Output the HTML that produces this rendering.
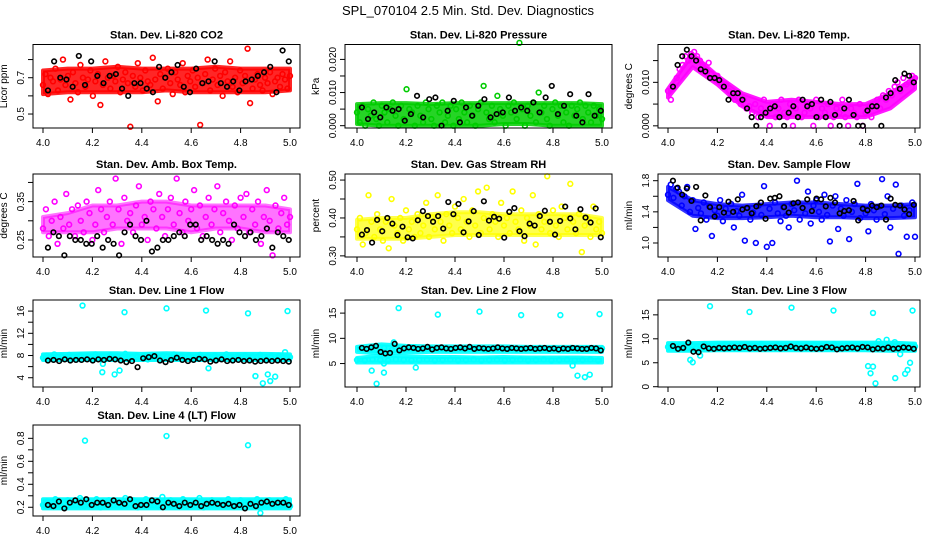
<!DOCTYPE html>
<html><head><meta charset="utf-8"><style>
html,body{margin:0;padding:0;background:#fff}
svg{display:block;font-family:"Liberation Sans",Arial,sans-serif}
</style></head><body>
<svg id="chart" width="936" height="540" viewBox="0 0 936 540" xmlns="http://www.w3.org/2000/svg">
<text x="468" y="15" text-anchor="middle" font-size="13">SPL_070104  2.5 Min. Std. Dev. Diagnostics</text>
</svg>
<script>
// ---- data ----
const xTicks = [4.0, 4.2, 4.4, 4.6, 4.8, 5.0];
const xTickLabels = ["4.0", "4.2", "4.4", "4.6", "4.8", "5.0"];
const bandX = [4.0,4.1,4.2,4.3,4.4,4.5,4.6,4.7,4.8,4.9,5.0];

const co2Main = [0.66,0.72,0.61,0.70,0.68,0.75,0.63,0.69,0.80,0.66,0.71,0.58,0.73,0.67,0.62,0.77,0.70,0.65,0.69,0.74,0.60,0.68,0.72,0.55,0.66,0.79,0.70,0.64,0.71,0.68,0.76,0.62,0.69,0.73,0.67,0.43,0.71,0.65,0.78,0.70,0.63,0.74,0.68,0.66,0.81,0.69,0.57,0.72,0.64,0.70,0.75,0.67,0.61,0.73,0.69,0.66,0.78,0.62,0.71,0.68,0.74,0.65,0.70,0.44,0.67,0.72,0.80,0.63,0.69,0.75,0.66,0.71,0.60,0.73,0.68,0.79,0.65,0.70,0.62,0.74,0.67,0.71,0.86,0.56,0.64,0.69,0.72,0.66,0.63,0.70,0.67,0.73,0.61,0.68,0.70,0.65,0.72,0.69,0.64,0.71];
const co2Black = [0.63,0.79,0.70,0.69,0.65,0.82,0.66,0.79,0.71,0.67,0.71,0.72,0.64,0.60,0.67,0.67,0.64,0.62,0.76,0.70,0.73,0.77,0.65,0.62,0.75,0.67,0.68,0.79,0.67,0.65,0.68,0.63,0.68,0.69,0.71,0.73,0.76,0.62,0.85,0.79];
const co2BandLo = [0.61,0.62,0.62,0.62,0.62,0.63,0.62,0.62,0.62,0.62,0.63];
const co2BandHi = [0.74,0.75,0.75,0.76,0.75,0.75,0.75,0.76,0.75,0.75,0.75];

const presMain = [0.004,0.001,0.006,0.000,0.005,0.003,0.007,0.002,0.000,0.006,0.004,0.001,0.005,0.007,0.003,0.000,0.006,0.002,0.011,0.005,0.004,0.000,0.006,0.003,0.001,0.007,0.005,0.002,0.000,0.006,0.004,0.007,0.001,0.003,0.006,0.000,0.005,0.002,0.007,0.004,0.001,0.006,0.003,0.000,0.005,0.007,0.012,0.004,0.002,0.006,0.001,0.009,0.005,0.003,0.000,0.006,0.004,0.007,0.002,0.025,0.005,0.000,0.006,0.003,0.007,0.001,0.010,0.004,0.006,0.002,0.000,0.005,0.007,0.003,0.006,0.001,0.004,0.000,0.006,0.003,0.005,0.007,0.002,0.006,0.004,0.001,0.006,0.003,0.005,0.002];
const presBlack = [0.0055,0.002,0.004,0.0025,0.0055,0.0045,0.005,0.0015,0.0035,0.009,0.0025,0.008,0.0085,0.000,0.0045,0.0075,0.001,0.0055,0.003,0.006,0.008,0.0025,0.0035,0.004,0.0085,0.0045,0.0055,0.0045,0.007,0.004,0.0085,0.012,0.0035,0.006,0.0095,0.003,0.001,0.0095,0.003,0.0045];
const presBandLo = [0.0005,0.0,0.0,0.0,0.0,0.0,0.0005,0.0005,0.0,0.0,0.0];
const presBandHi = [0.0065,0.0068,0.0068,0.0065,0.0068,0.0068,0.0068,0.0068,0.0068,0.0068,0.0065];

const tempMain = [0.008,0.006,0.009,0.011,0.013,0.014,0.016,0.015,0.0165,0.017,0.016,0.015,0.014,0.013,0.0145,0.012,0.011,0.0115,0.010,0.009,0.0095,0.008,0.007,0.006,0.0065,0.005,0.006,0.004,0.0045,0.003,0.005,0.002,0.004,0.006,0.003,0.000,0.005,0.002,0.004,0.006,0.003,0.002,0.005,0.000,0.004,0.006,0.002,0.003,0.005,0.004,0.000,0.006,0.002,0.004,0.003,0.005,0.000,0.002,0.004,0.003,0.006,0.002,0.000,0.004,0.003,0.002,0.005,0.000,0.003,0.004,0.002,0.005,0.006,0.004,0.007,0.006,0.008,0.007,0.009,0.010,0.008,0.011,0.0095,0.010,0.0115,0.011];
const tempBlack = [0.009,0.014,0.016,0.0175,0.016,0.015,0.013,0.0125,0.011,0.011,0.0105,0.009,0.006,0.0075,0.0075,0.006,0.004,0.002,0.000,0.002,0.003,0.004,0.0045,0.002,0.000,0.003,0.0045,0.002,0.006,0.0045,0.005,0.002,0.006,0.002,0.0055,0.0025,0.000,0.004,0.006,0.0025,0.000,0.000,0.0035,0.0045,0.0045,0.000,0.0065,0.0075,0.0105,0.0085,0.012,0.0115,0.010];
const tempBandLo = [0.0065,0.0135,0.0095,0.0045,0.002,0.002,0.002,0.002,0.002,0.004,0.0085];
const tempBandHi = [0.0085,0.0165,0.0115,0.0075,0.0055,0.006,0.0055,0.005,0.005,0.0075,0.011];

const ambMain = [0.28,0.33,0.26,0.30,0.35,0.24,0.31,0.28,0.37,0.29,0.33,0.26,0.34,0.30,0.27,0.35,0.32,0.25,0.29,0.38,0.33,0.27,0.31,0.35,0.29,0.41,0.33,0.24,0.36,0.30,0.32,0.27,0.34,0.39,0.29,0.31,0.25,0.35,0.33,0.28,0.37,0.31,0.26,0.33,0.36,0.29,0.41,0.32,0.27,0.35,0.30,0.33,0.38,0.28,0.34,0.26,0.31,0.36,0.29,0.33,0.39,0.27,0.32,0.35,0.30,0.25,0.34,0.28,0.36,0.31,0.37,0.27,0.33,0.29,0.35,0.24,0.31,0.38,0.30,0.21,0.34,0.28,0.32,0.36,0.29,0.31];
const ambBlack = [0.23,0.27,0.26,0.21,0.26,0.25,0.25,0.24,0.24,0.26,0.23,0.25,0.24,0.21,0.27,0.29,0.26,0.25,0.30,0.22,0.23,0.25,0.25,0.26,0.27,0.26,0.29,0.29,0.25,0.26,0.25,0.24,0.25,0.24,0.29,0.27,0.26,0.27,0.25,0.26,0.28,0.23,0.27,0.26,0.25];
const ambBandLo = [0.27,0.27,0.27,0.28,0.28,0.28,0.27,0.28,0.28,0.27,0.27];
const ambBandHi = [0.31,0.32,0.34,0.34,0.35,0.35,0.34,0.34,0.34,0.34,0.33];

const rhMain = [0.37,0.40,0.33,0.36,0.46,0.39,0.35,0.41,0.37,0.34,0.39,0.32,0.45,0.38,0.36,0.40,0.34,0.42,0.37,0.39,0.35,0.41,0.36,0.38,0.44,0.35,0.40,0.37,0.46,0.39,0.34,0.41,0.38,0.36,0.43,0.40,0.37,0.45,0.39,0.35,0.42,0.38,0.47,0.36,0.40,0.48,0.37,0.41,0.39,0.35,0.44,0.38,0.40,0.36,0.47,0.39,0.37,0.42,0.34,0.40,0.38,0.46,0.33,0.41,0.37,0.39,0.51,0.36,0.42,0.38,0.35,0.43,0.40,0.37,0.49,0.39,0.36,0.41,0.31,0.38,0.40,0.35,0.43,0.37,0.39,0.36];
const rhBlack = [0.356,0.368,0.335,0.395,0.365,0.400,0.385,0.355,0.377,0.349,0.346,0.394,0.418,0.405,0.390,0.405,0.372,0.442,0.410,0.437,0.362,0.391,0.418,0.355,0.444,0.393,0.403,0.398,0.348,0.416,0.426,0.365,0.352,0.385,0.380,0.405,0.419,0.390,0.356,0.392,0.430,0.399,0.370,0.423,0.401,0.388,0.425,0.349];
const rhBandLo = [0.345,0.345,0.345,0.35,0.355,0.355,0.355,0.355,0.355,0.355,0.355];
const rhBandHi = [0.395,0.40,0.40,0.41,0.415,0.415,0.41,0.41,0.41,0.41,0.40];

const flowMain = [1.62,1.75,1.58,1.70,1.66,1.48,1.60,1.72,1.40,1.55,1.18,1.45,1.38,1.52,1.30,1.47,1.09,1.42,1.35,1.55,1.28,1.44,1.38,1.50,1.20,1.41,1.35,1.62,1.03,1.45,1.30,1.39,1.00,1.48,1.36,1.73,0.95,1.44,1.00,1.52,1.38,1.28,1.46,1.35,1.20,1.50,1.42,1.80,1.30,1.45,1.38,1.66,1.25,1.48,1.55,1.40,1.30,1.62,1.36,1.02,1.48,1.60,1.18,1.44,1.35,1.55,1.05,1.40,1.50,1.76,1.32,1.45,1.38,1.15,1.50,1.42,1.30,1.47,1.82,1.37,1.60,1.20,1.44,1.75,0.86,1.48,1.35,1.08,1.42,1.52,1.08];
const flowBlack = [1.80,1.71,1.62,1.70,1.54,1.72,1.29,1.61,1.46,1.34,1.46,1.39,1.53,1.40,1.56,1.43,1.45,1.38,1.47,1.52,1.31,1.57,1.58,1.60,1.46,1.39,1.51,1.52,1.45,1.56,1.41,1.57,1.56,1.47,1.58,1.52,1.38,1.41,1.42,1.54,1.29,1.44,1.42,1.48,1.46,1.48,1.30,1.57,1.49,1.48,1.43,1.37,1.49];
const flowBandLo = [1.55,1.35,1.32,1.32,1.33,1.35,1.33,1.33,1.32,1.32,1.33];
const flowBandHi = [1.72,1.55,1.50,1.48,1.50,1.52,1.52,1.50,1.48,1.48,1.50];

const l1Main = [7.6,8.0,7.4,8.2,7.7,7.9,7.5,8.1,7.8,7.3,8.0,7.6,7.9,7.4,8.2,7.7,6.5,7.8,8.1,7.5,7.9,7.6,8.3,7.4,7.8,8.0,7.6,7.9,7.3,8.1,7.7,7.5,8.0,7.8,7.4,8.2,7.6,7.9,7.7,8.0,7.5,7.8,8.1,7.6,7.9,7.4,8.0,7.7,7.5,8.2,7.8,7.6,7.9,7.7,8.0,7.5,7.8,7.6,8.1,7.7,7.4,7.9,7.6,8.0,7.8,7.5,7.7];
const l1Black = [7.1,7.2,7.0,7.3,7.1,7.2,7.2,7.3,7.1,7.3,7.2,7.4,7.3,7.1,6.8,7.0,5.9,7.5,7.7,7.9,7.1,6.8,7.2,7.6,7.2,7.0,7.2,7.4,7.3,6.9,7.1,7.3,7.0,7.1,7.2,7.0,7.1,6.9,7.0,7.1,7.0,7.1,7.0,6.9];
const l1OutX = [4.16,4.33,4.50,4.66,4.83,4.99,4.31,4.24,4.29,4.67,4.86,4.89,4.91,4.92,4.94,4.98];
const l1OutY = [17.0,15.8,16.5,16.1,15.6,16.0,5.3,5.0,4.6,5.7,4.3,3.0,4.6,3.4,4.2,8.6];
const l1BandLo = [7.2,7.2,7.2,7.2,7.2,7.2,7.2,7.2,7.2,7.2,7.2];
const l1BandHi = [8.2,8.3,8.4,8.4,8.3,8.4,8.3,8.3,8.3,8.3,8.2];

const l2Main = [5.7,7.9,5.6,8.0,5.8,7.8,5.7,8.1,5.6,7.7,5.8,8.0,5.7,7.9,5.6,8.2,5.7,7.8,5.8,8.0,5.6,7.9,5.7,8.1,5.8,7.8,5.6,8.0,5.7,7.9,5.8,8.1,5.6,7.7,5.7,8.0,5.8,7.9,5.6,8.1,5.7,7.8,5.8,8.0,5.6,7.9,5.7,8.1,5.8,7.8,5.6,8.0,5.7,7.9,5.8,8.1,5.6,7.8,5.7,8.0,5.8,7.9,5.6,8.0];
const l2Black = [8.1,7.9,8.2,8.5,7.3,7.0,7.1,8.9,7.6,8.0,8.2,8.1,7.9,8.0,8.3,7.8,8.1,8.2,8.0,7.9,8.1,8.2,8.0,8.3,7.9,8.1,8.0,7.9,8.0,8.2,8.0,7.9,8.1,8.0,7.9,8.0,8.1,7.9,8.0,8.1,7.9,8.0,7.8,8.0,7.9,8.1,8.0,7.9,7.9,8.1,8.0,7.6];
const l2OutX = [4.17,4.33,4.50,4.67,4.83,4.99,4.06,4.08,4.11,4.24,4.90,4.93,4.95,4.88,4.11,4.15];
const l2OutY = [16.0,14.7,15.3,14.6,14.6,14.8,3.6,1.0,3.2,4.2,2.6,2.3,2.8,4.6,5.0,9.2];
const l2BandLo = [5.2,5.2,5.2,5.2,5.2,5.2,5.2,5.2,5.2,5.2,5.2];
const l2BandMid = [6.1,6.6,6.4,6.3,6.3,6.2,6.3,6.2,6.2,6.2,6.1];
const l2BandLo2 = [7.3,7.0,7.2,7.3,7.3,7.3,7.3,7.3,7.3,7.3,7.3];
const l2BandHi = [8.3,8.8,8.5,8.4,8.4,8.4,8.4,8.3,8.3,8.3,8.3];

const l3Main = [8.3,8.6,8.1,8.8,8.4,8.2,8.7,8.0,8.5,8.9,8.3,8.1,8.6,8.4,8.8,8.2,8.5,8.0,8.7,8.3,8.6,8.1,8.4,8.9,8.2,8.5,8.3,8.7,8.0,8.6,8.4,8.2,8.8,8.3,8.5,8.1,8.7,8.4,8.2,8.6,8.3,8.9,8.1,8.5,8.4,8.7,8.2,8.6,8.3,8.8,8.0,8.5,9.5,8.4,9.8,8.2,9.3,8.6,8.3,8.1,8.5,8.4];
const l3Black = [8.5,7.9,8.1,9.2,7.3,7.2,8.4,8.0,7.9,8.1,8.0,8.1,8.2,8.1,8.3,8.0,8.1,7.9,8.0,8.1,8.2,8.0,8.1,8.4,8.1,8.0,8.2,8.0,7.9,8.0,8.3,8.2,7.8,8.0,8.1,8.2,8.0,8.3,8.2,7.8,8.0,7.9,8.2,7.9,8.0,8.2,8.1,7.9];
const l3OutX = [4.17,4.33,4.50,4.67,4.83,4.99,4.09,4.10,4.13,4.81,4.82,4.84,4.83,4.92,4.96,4.97,4.98,4.94];
const l3OutY = [16.8,15.6,16.5,15.9,15.4,15.9,5.6,5.1,6.5,4.3,2.8,0.7,4.2,1.8,2.7,3.5,5.0,6.8];
const l3BandLo = [7.5,7.5,7.6,7.6,7.6,7.6,7.6,7.6,7.6,7.5,7.5];
const l3BandHi = [9.1,9.1,9.2,9.2,9.2,9.2,9.2,9.2,9.2,9.2,9.0];

const l4Main = [0.22,0.25,0.21,0.27,0.23,0.20,0.26,0.24,0.22,0.28,0.21,0.25,0.23,0.27,0.20,0.24,0.26,0.22,0.25,0.21,0.28,0.23,0.26,0.20,0.24,0.27,0.22,0.25,0.21,0.29,0.23,0.26,0.22,0.24,0.27,0.21,0.25,0.23,0.28,0.20,0.24,0.26,0.22,0.25,0.23,0.27,0.21,0.24,0.26,0.22,0.25,0.23,0.27,0.21,0.24,0.26,0.22,0.25,0.23,0.27,0.21];
const l4Black = [0.22,0.21,0.25,0.19,0.24,0.26,0.24,0.27,0.22,0.24,0.24,0.22,0.26,0.24,0.23,0.27,0.21,0.22,0.22,0.26,0.25,0.20,0.24,0.23,0.21,0.24,0.22,0.24,0.21,0.23,0.24,0.23,0.22,0.23,0.21,0.22,0.19,0.23,0.21,0.24,0.25,0.23,0.24,0.24,0.22];
const l4OutX = [4.17,4.50,4.83,4.88];
const l4OutY = [0.78,0.82,0.74,0.15];
const l4BandLo = [0.19,0.19,0.19,0.19,0.19,0.19,0.19,0.19,0.19,0.19,0.19];
const l4BandHi = [0.27,0.27,0.27,0.27,0.27,0.27,0.27,0.27,0.27,0.27,0.27];

// ---- layout ----
const colL = [33, 345, 658], colR = [300, 612, 920], colX4 = [43, 357, 668], colX5 = [290, 602, 915];
const rowT = [44.5, 174, 300, 425], rowB = [128, 257, 387, 516];
const svg = document.getElementById('chart');
const NS = 'http://www.w3.org/2000/svg';
function mk(tag, attrs, parent) {
  const e = document.createElementNS(NS, tag);
  for (const k in attrs) e.setAttribute(k, attrs[k]);
  (parent || svg).appendChild(e);
  return e;
}
const panels = [
  {id:'co2', title:'Stan. Dev. Li-820 CO2', ylab:'Licor ppm', c:0, r:0, dom:[0.423,0.883], ticks:[0.5,0.6,0.7,0.8], labs:['0.5','','0.7',''], main:co2Main, black:co2Black, bands:[[co2BandLo,co2BandHi]], bo:0.85, color:'#ff0000'},
  {id:'pressure', title:'Stan. Dev. Li-820 Pressure', ylab:'kPa', c:1, r:0, dom:[-0.0007,0.0245], ticks:[0,0.005,0.01,0.015,0.02], labs:['0.000','','0.010','','0.020'], main:presMain, black:presBlack, bands:[[presBandLo,presBandHi]], bo:0.85, color:'#00cc00'},
  {id:'li820-temp', title:'Stan. Dev. Li-820 Temp.', ylab:'degrees C', c:2, r:0, dom:[-0.0005,0.0187], ticks:[0,0.005,0.01,0.015], labs:['0.000','','0.010',''], main:tempMain, black:tempBlack, bands:[[tempBandLo,tempBandHi]], bo:0.9, color:'#ff00ff'},
  {id:'amb-box-temp', title:'Stan. Dev. Amb. Box Temp.', ylab:'degrees C', c:0, r:1, dom:[0.2056,0.422], ticks:[0.25,0.3,0.35,0.4], labs:['0.25','','0.35',''], main:ambMain, black:ambBlack, bands:[[ambBandLo,ambBandHi]], bo:0.55, color:'#ff00ff'},
  {id:'gas-rh', title:'Stan. Dev. Gas Stream RH', ylab:'percent', c:1, r:1, dom:[0.297,0.516], ticks:[0.3,0.35,0.4,0.45,0.5], labs:['0.30','','0.40','','0.50'], main:rhMain, black:rhBlack, bands:[[rhBandLo,rhBandHi]], bo:0.7, color:'#ffff00'},
  {id:'sample-flow', title:'Stan. Dev. Sample Flow', ylab:'ml/min', c:2, r:1, dom:[0.82,1.886], ticks:[1.0,1.2,1.4,1.6,1.8], labs:['1.0','','1.4','','1.8'], main:flowMain, black:flowBlack, bands:[[flowBandLo,flowBandHi]], bo:0.8, color:'#0000ff'},
  {id:'line1-flow', title:'Stan. Dev. Line 1 Flow', ylab:'ml/min', c:0, r:2, dom:[2.33,18.0], ticks:[4,6,8,10,12,14,16], labs:['4','','8','','12','','16'], main:l1Main, black:l1Black, outX:l1OutX, outY:l1OutY, bands:[[l1BandLo,l1BandHi]], bo:0.95, color:'#00ffff'},
  {id:'line2-flow', title:'Stan. Dev. Line 2 Flow', ylab:'ml/min', c:1, r:2, dom:[0.35,17.6], ticks:[5,10,15], labs:['5','10','15'], main:l2Main, black:l2Black, outX:l2OutX, outY:l2OutY, bands:[[l2BandLo,l2BandMid],[l2BandLo2,l2BandHi]], bo:0.9, color:'#00ffff'},
  {id:'line3-flow', title:'Stan. Dev. Line 3 Flow', ylab:'ml/min', c:2, r:2, dom:[-0.06,18.1], ticks:[0,5,10,15], labs:['0','5','10','15'], main:l3Main, black:l3Black, outX:l3OutX, outY:l3OutY, bands:[[l3BandLo,l3BandHi]], bo:0.95, color:'#00ffff'},
  {id:'line4-flow', title:'Stan. Dev. Line 4 (LT) Flow', ylab:'ml/min', c:0, r:3, dom:[0.124,0.916], ticks:[0.2,0.3,0.4,0.5,0.6,0.7,0.8], labs:['0.2','','0.4','','0.6','','0.8'], main:l4Main, black:l4Black, outX:l4OutX, outY:l4OutY, bands:[[l4BandLo,l4BandHi]], bo:0.95, color:'#00ffff'}
];
panels.forEach(p => {
  const L = colL[p.c], R = colR[p.c], T = rowT[p.r], B = rowB[p.r];
  const xs = v => colX4[p.c] + (v - 4) * (colX5[p.c] - colX4[p.c]);
  const ys = v => B - (v - p.dom[0]) / (p.dom[1] - p.dom[0]) * (B - T);
  const g = mk('g', {});
  
  
  const t = mk('text', {x:(L+R)/2, y:T-6, 'text-anchor':'middle', 'font-size':'11', 'font-weight':'bold'}, g);
  
  
  t.textContent = p.title;
  const yl = mk('text', {x:L-26, y:(T+B)/2, 'text-anchor':'middle', 'font-size':'10', transform:`rotate(-90 ${L-26} ${(T+B)/2})`}, g);
  
  
  yl.textContent = p.ylab;
  p.bands.forEach(b => {
    const lo = b[0], hi = b[1];
    let d = '';
    bandX.forEach((xv, i) => { d += (i ? 'L' : 'M') + xs(xv).toFixed(1) + ',' + ys(hi[i]).toFixed(1); });
    for (let i = bandX.length - 1; i >= 0; i--) d += 'L' + xs(bandX[i]).toFixed(1) + ',' + ys(lo[i]).toFixed(1);
    const band = mk('path', {d: d + 'Z', fill:p.color, 'fill-opacity':p.bo, stroke:p.color, 'stroke-width':'4', 'stroke-opacity':p.bo, 'stroke-linejoin':'round'}, g);
    
    
  });
  const pts = mk('g', {fill:'none', 'stroke-width':'1.6'}, g);
  
  
  const n = p.main.length;
  p.main.forEach((v, i) => {
    const c = mk('circle', {cx:xs(4 + i/(n-1)), cy:ys(v), r:2.4, stroke:p.color}, pts);
    
    
  });
  if (p.outX) p.outX.forEach((xv, i) => {
    const c = mk('circle', {cx:xs(xv), cy:ys(p.outY[i]), r:2.4, stroke:p.color}, pts);
    
    
  });
  const m = p.black.length;
  p.black.forEach((v, i) => {
    const c = mk('circle', {cx:xs(4.02 + 0.975*i/(m-1)), cy:ys(v), r:2.3, stroke:'#000'}, pts);
    
    
  });
  const box = mk('rect', {x:L, y:T, width:R-L, height:B-T, fill:'none', stroke:'#000', 'stroke-width':'1'}, g);
  
  
  const xa = mk('g', {stroke:'#000', 'font-size':'10'}, g);
  
  
  xTicks.forEach((v, i) => {
    mk('line', {x1:xs(v), x2:xs(v), y1:B, y2:B+5}, xa);
    const tl = mk('text', {x:xs(v), y:B+18, 'text-anchor':'middle', stroke:'none', fill:'#000'}, xa);
    
    
    tl.textContent = xTickLabels[i];
  });
  const ya = mk('g', {stroke:'#000', 'font-size':'10'}, g);
  
  
  p.ticks.forEach((v, i) => {
    mk('line', {x1:L-5, x2:L, y1:ys(v), y2:ys(v)}, ya);
    if (p.labs[i]) {
      const tl = mk('text', {x:L-9, y:ys(v), 'text-anchor':'middle', stroke:'none', fill:'#000', transform:`rotate(-90 ${L-9} ${ys(v)})`}, ya);
      
      
      tl.textContent = p.labs[i];
    }
  });
});
</script>
</body></html>
